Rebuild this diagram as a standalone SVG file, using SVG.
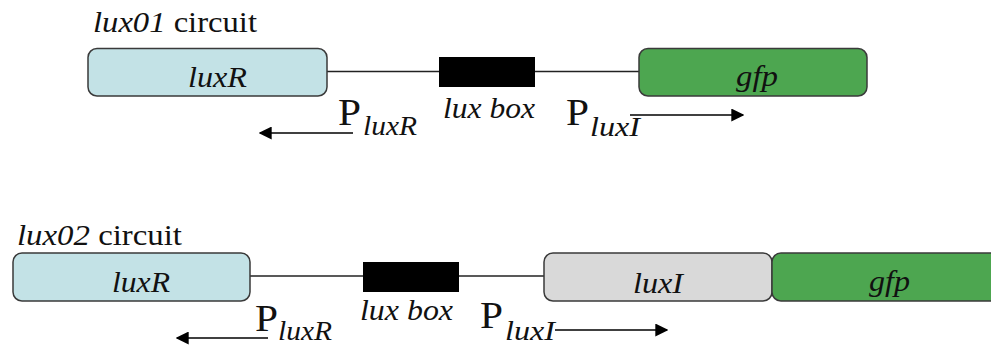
<svg xmlns="http://www.w3.org/2000/svg" width="991" height="347" viewBox="0 0 991 347">
  <defs>
    <marker id="arrow" viewBox="0 0 10 10" refX="9" refY="5" markerWidth="13" markerHeight="13" markerUnits="userSpaceOnUse" orient="auto">
      <path d="M0,0 L10,5 L0,10 z" fill="#000"/>
    </marker>
  </defs>
  <style>
    text { font-family: "Liberation Serif", "Times New Roman", serif; fill: #111; }
    .it { font-style: italic; }
    .lbl { font-size: 30px; }
    .gene { font-size: 30px; font-style: italic; }
    .P { font-size: 37px; }
    .sub { font-size: 27px; font-style: italic; }
    .gene-box { stroke: #3a3a3a; stroke-width: 1.5; }
    .luxR { fill: #c3e2e6; }
    .gfp { fill: #4da650; }
    .luxI { fill: #d9d9d9; }
    .dna { stroke: #222; stroke-width: 1.3; fill: none; }
    .prom { stroke: #000; stroke-width: 1.3; fill: none; marker-end: url(#arrow); }
    .box { fill: #000; }
  </style>

  <!-- lux01 circuit -->
  <g id="lux01-title">
    <text class="lbl" x="93" y="32" textLength="164" lengthAdjust="spacingAndGlyphs"><tspan class="it">lux01</tspan> circuit</text>
  </g>
  <g id="connectors-lux01">
    <line class="dna" x1="327" y1="71.5" x2="640" y2="71.5"/>
    <line class="prom" x1="353" y1="133" x2="260" y2="133"/>
    <line class="prom" x1="630" y1="115" x2="743" y2="115"/>
  </g>
  <g id="lux01-luxR">
    <rect class="gene-box luxR" x="88" y="48.5" width="239" height="47.5" rx="9"/>
    <text class="gene" x="188" y="87" textLength="59" lengthAdjust="spacingAndGlyphs">luxR</text>
  </g>
  <g id="lux01-luxbox">
    <rect class="box" x="439" y="57" width="96" height="30"/>
    <text class="gene" x="443" y="118" textLength="92" lengthAdjust="spacingAndGlyphs">lux box</text>
  </g>
  <g id="lux01-gfp">
    <rect class="gene-box gfp" x="639" y="48.5" width="228" height="47.5" rx="9"/>
    <text class="gene" x="736" y="86" textLength="42" lengthAdjust="spacingAndGlyphs">gfp</text>
  </g>
  <g id="lux01-PluxR">
    <text class="P" x="338" y="125" textLength="23" lengthAdjust="spacingAndGlyphs">P</text>
    <text class="sub" x="363" y="135" textLength="54" lengthAdjust="spacingAndGlyphs">luxR</text>
  </g>
  <g id="lux01-PluxI">
    <text class="P" x="566" y="125" textLength="23" lengthAdjust="spacingAndGlyphs">P</text>
    <text class="sub" x="590" y="136" textLength="50" lengthAdjust="spacingAndGlyphs">luxI</text>
  </g>

  <!-- lux02 circuit -->
  <g id="lux02-title">
    <text class="lbl" x="17" y="245" textLength="165" lengthAdjust="spacingAndGlyphs"><tspan class="it">lux02</tspan> circuit</text>
  </g>
  <g id="connectors-lux02">
    <line class="dna" x1="250" y1="276" x2="544" y2="276"/>
    <line class="prom" x1="268" y1="338" x2="177" y2="338"/>
    <line class="prom" x1="555" y1="330" x2="667" y2="330"/>
  </g>
  <g id="lux02-luxR">
    <rect class="gene-box luxR" x="13" y="253" width="237" height="48" rx="9"/>
    <text class="gene" x="112" y="292" textLength="58" lengthAdjust="spacingAndGlyphs">luxR</text>
  </g>
  <g id="lux02-luxbox">
    <rect class="box" x="363" y="262" width="96" height="30"/>
    <text class="gene" x="360" y="320" textLength="93" lengthAdjust="spacingAndGlyphs">lux box</text>
  </g>
  <g id="lux02-luxI">
    <rect class="gene-box luxI" x="544" y="253" width="228" height="48" rx="9"/>
    <text class="gene" x="633" y="293" textLength="50" lengthAdjust="spacingAndGlyphs">luxI</text>
  </g>
  <g id="lux02-gfp">
    <rect class="gene-box gfp" x="772" y="253" width="240" height="48" rx="9"/>
    <text class="gene" x="869" y="291" textLength="41" lengthAdjust="spacingAndGlyphs">gfp</text>
  </g>
  <g id="lux02-PluxR">
    <text class="P" x="255" y="331" textLength="23" lengthAdjust="spacingAndGlyphs">P</text>
    <text class="sub" x="278" y="340" textLength="54" lengthAdjust="spacingAndGlyphs">luxR</text>
  </g>
  <g id="lux02-PluxI">
    <text class="P" x="480" y="328" textLength="23" lengthAdjust="spacingAndGlyphs">P</text>
    <text class="sub" x="505" y="340" textLength="50" lengthAdjust="spacingAndGlyphs">luxI</text>
  </g>
</svg>
